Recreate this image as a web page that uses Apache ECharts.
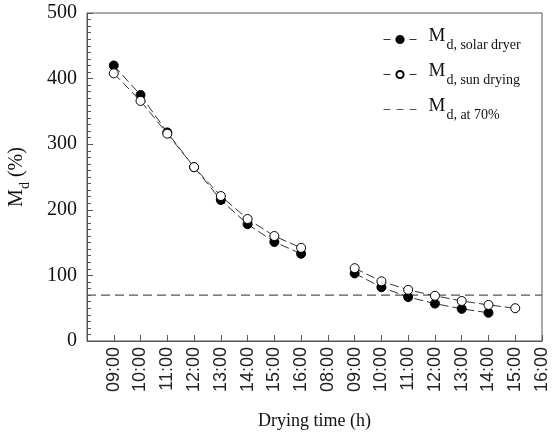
<!DOCTYPE html>
<html>
<head>
<meta charset="utf-8">
<script src="https://cdn.jsdelivr.net/npm/echarts@6/dist/echarts.min.js"></script>
<style>
  html, body { margin: 0; padding: 0; background: #fff; }
  #chart { width: 552px; height: 437px; }
</style>
</head>
<body>
<div id="chart"></div>
<script>
// x tick labels (slot 0 is empty)
var timeLabels = ["", "09:00", "10:00", "11:00", "12:00", "13:00", "14:00", "15:00", "16:00",
  "08:00", "09:00", "10:00", "11:00", "12:00", "13:00", "14:00", "15:00", "16:00"];
// moisture content, null = no reading
var solarDryer = [null, 420, 375, 318, 265, 215, 178, 151, 133, null, 103, 82, 67, 57, 49, 43, null, null];
var sunDrying = [null, 408, 366, 316, 265, 221, 186, 160, 142, null, 111, 91, 78, 69, 61, 55, 50, null];
var threshold = 70;

var serif = "Liberation Serif";
var toPairs = function (arr) {
  return arr.map(function (v, i) { return [i, v]; });
};

var chart = echarts.init(document.getElementById("chart"));
chart.setOption({
  animation: false,
  grid: {
    left: 87, right: 10, top: 13, bottom: 96,
    outerBoundsMode: "none",
    containLabel: false,
    show: true, borderColor: "#555", borderWidth: 1
  },
  legend: {
    orient: "vertical",
    left: 378,
    top: 22,
    itemWidth: 33,
    itemHeight: 9,
    itemGap: 10,
    lineStyle: { type: [7, 6], width: 1 },
    data: [
      "solar",
      "sun",
      { name: "seventy", itemStyle: { color: "rgba(0,0,0,0)", borderColor: "rgba(0,0,0,0)", borderWidth: 0 } }
    ],
    formatter: function (name) {
      var sub = { solar: "d, solar dryer", sun: "d, sun drying", seventy: "d, at 70%" }[name];
      return "{m|M}{s|" + sub + "}";
    },
    textStyle: {
      rich: {
        m: { fontFamily: serif, fontSize: 19, color: "#111", padding: [0, 1, 6, 7], verticalAlign: "bottom" },
        s: { fontFamily: serif, fontSize: 14, color: "#111", verticalAlign: "bottom" }
      }
    }
  },
  xAxis: {
    type: "value",
    min: 0,
    max: 17,
    interval: 1,
    splitLine: { show: false },
    axisLine: { lineStyle: { color: "#555" } },
    axisTick: { inside: true, length: 6, lineStyle: { color: "#555" } },
    axisLabel: {
      rotate: 90,
      margin: 6,
      fontFamily: "Liberation Sans",
      fontSize: 18,
      color: "#222",
      formatter: function (v) { return timeLabels[v]; }
    },
    name: "Drying time (h)",
    nameLocation: "middle",
    nameGap: 71,
    nameTextStyle: { fontFamily: serif, fontSize: 18, color: "#111" }
  },
  yAxis: {
    type: "value",
    min: 0,
    max: 500,
    interval: 100,
    splitLine: { show: false },
    axisLine: { lineStyle: { color: "#555" } },
    axisTick: { inside: true, length: 6, lineStyle: { color: "#555" } },
    minorTick: { show: true, splitNumber: 10, length: 4, lineStyle: { color: "#555" } },
    axisLabel: { fontFamily: serif, fontSize: 20, color: "#111", margin: 10 },
    name: "{m|M}{s|d}{m| (%)}",
    nameLocation: "middle",
    nameGap: 55,
    nameRotate: 90,
    nameTextStyle: {
      rich: {
        m: { fontFamily: serif, fontSize: 20, color: "#111", padding: [0, 0, 5, 0], verticalAlign: "bottom" },
        s: { fontFamily: serif, fontSize: 14, color: "#111", verticalAlign: "bottom" }
      }
    }
  },
  series: [
    {
      name: "solar",
      type: "line",
      data: toPairs(solarDryer),
      connectNulls: false,
      symbol: "circle",
      symbolSize: 9,
      lineStyle: { color: "#333", width: 1, type: [9, 4] },
      itemStyle: { color: "#000", borderColor: "#000", borderWidth: 1 },
      z: 3
    },
    {
      name: "sun",
      type: "line",
      data: toPairs(sunDrying),
      connectNulls: false,
      symbol: "circle",
      symbolSize: 9,
      lineStyle: { color: "#333", width: 1, type: [9, 4] },
      itemStyle: { color: "#fff", borderColor: "#000", borderWidth: 1 },
      z: 4
    },
    {
      name: "seventy",
      type: "line",
      data: [[0, threshold], [17, threshold]],
      symbol: "none",
      lineStyle: { color: "#555", width: 1.2, type: [9, 5] },
      itemStyle: { color: "#555" },
      z: 2
    }
  ]
});
</script>
</body>
</html>
